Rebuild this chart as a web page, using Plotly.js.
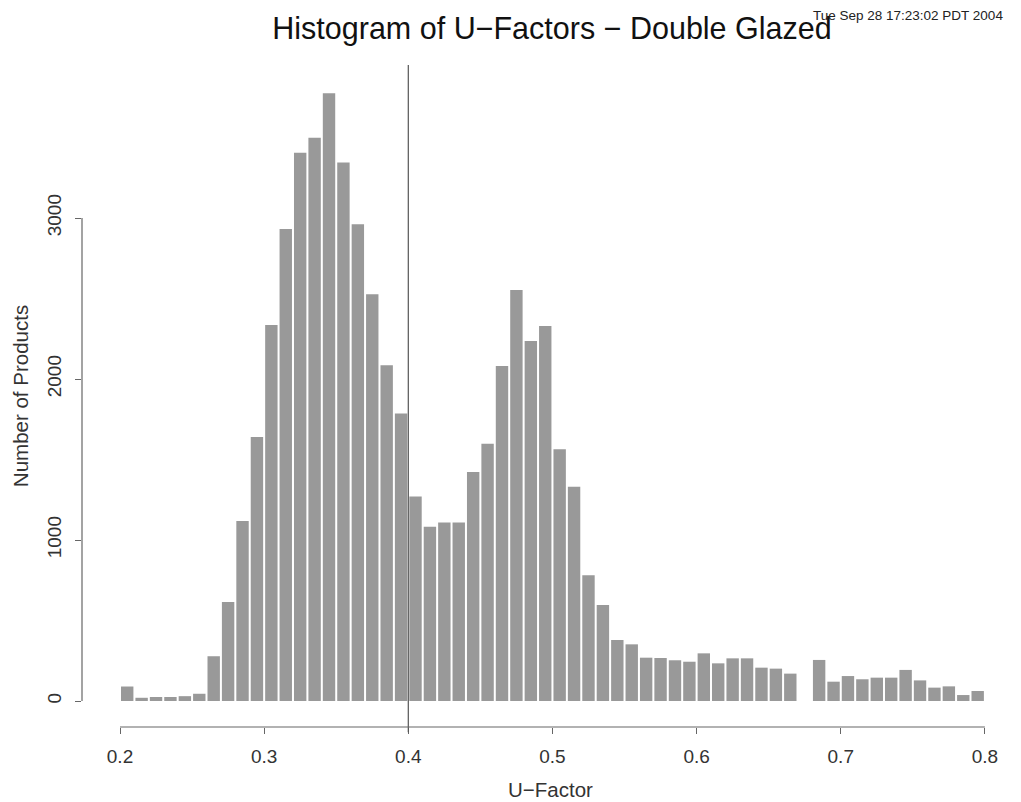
<!DOCTYPE html>
<html>
<head>
<meta charset="utf-8">
<script src="https://cdn.plot.ly/plotly-3.0.1.min.js"></script>
<style>html,body{margin:0;padding:0;background:#fff;}#chart{width:1021px;height:802px;}</style>
</head>
<body>
<div id="chart"></div>
<script>
// Bin left edges (U-Factor), width 0.01
const binStarts = [0.20,0.21,0.22,0.23,0.24,0.25,0.26,0.27,0.28,0.29,
                   0.30,0.31,0.32,0.33,0.34,0.35,0.36,0.37,0.38,0.39,
                   0.40,0.41,0.42,0.43,0.44,0.45,0.46,0.47,0.48,0.49,
                   0.50,0.51,0.52,0.53,0.54,0.55,0.56,0.57,0.58,0.59,
                   0.60,0.61,0.62,0.63,0.64,0.65,0.66,0.67,0.68,0.69,
                   0.70,0.71,0.72,0.73,0.74,0.75,0.76,0.77,0.78,0.79];
// Number of products per bin
const counts = [90,20,25,25,30,45,278,615,1118,1640,
                2335,2932,3406,3499,3775,3344,2961,2526,2085,1785,
                1270,1083,1108,1108,1422,1598,2081,2553,2236,2329,
                1563,1331,781,596,379,352,269,267,253,244,
                296,234,265,265,207,201,170,0,255,120,
                155,135,145,145,193,128,83,91,37,62];
const binWidth = 0.01;
const xTicks = [0.2,0.3,0.4,0.5,0.6,0.7,0.8];
const xTickText = ["0.2","0.3","0.4","0.5","0.6","0.7","0.8"];
const yTicks = [0,1000,2000,3000];
const yTickText = ["0","1000","2000","3000"];
const refLineX = 0.4;
const titleText = "Histogram of U\u2212Factors \u2212 Double Glazed";
const stampText = "Tue Sep 28 17:23:02 PDT 2004";
const xTitle = "U\u2212Factor";
const yTitle = "Number of Products";

const font = "Liberation Sans, Arial, Helvetica, sans-serif";
const axisColor = "#666666";

const trace = {
  type: "bar",
  x: binStarts,
  y: counts,
  width: binWidth * 0.86,
  offset: binWidth * 0.07,
  marker: {color: "#999999", line: {color: "#8a8a8a", width: 0}},
  hoverinfo: "x+y"
};

const layout = {
  width: 1021, height: 802,
  margin: {l: 82, r: 2, t: 65, b: 75, pad: 0},
  paper_bgcolor: "#ffffff", plot_bgcolor: "#ffffff",
  showlegend: false,
  font: {family: font, color: "#222222"},
  title: {
    text: titleText,
    font: {family: font, size: 30.5, color: "#111111"},
    x: 552/1021, xref: "container", xanchor: "center",
    y: 1 - 28/802, yref: "container", yanchor: "middle"
  },
  xaxis: {
    range: [0.2 - 38/1441.5, 0.2 - 38/1441.5 + 937/1441.5],
    tickvals: xTicks, ticktext: xTickText,
    ticks: "outside", ticklen: 6, tickwidth: 1, tickcolor: axisColor,
    showline: false, showgrid: false, zeroline: false,
    tickfont: {family: font, size: 19, color: "#333333"},
    ticklabelstandoff: 6,
    title: {text: xTitle, font: {family: font, size: 20.5, color: "#333333"}, standoff: 16},
    fixedrange: true
  },
  yaxis: {
    range: [-26/0.161, (701-65)/0.161],
    tickvals: yTicks, ticktext: yTickText,
    ticks: "outside", ticklen: 6, tickwidth: 1, tickcolor: axisColor,
    tickangle: -90,
    showline: false, showgrid: false, zeroline: false,
    tickfont: {family: font, size: 19, color: "#333333"},
    ticklabelstandoff: 6,
    title: {text: yTitle, font: {family: font, size: 20.5, color: "#333333"}, standoff: 10},
    fixedrange: true
  },
  shapes: [
    {type: "line", xref: "x", yref: "paper", x0: refLineX, x1: refLineX, y0: -0.008, y1: 1,
     line: {color: "#555555", width: 1.2}},
    {type: "line", xref: "paper", yref: "y", x0: 0, x1: 0, y0: yTicks[0], y1: yTicks[yTicks.length-1],
     line: {color: axisColor, width: 1.2}},
    {type: "line", xref: "x", yref: "paper", x0: xTicks[0], x1: xTicks[xTicks.length-1], y0: 0, y1: 0,
     line: {color: axisColor, width: 1.2}}
  ],
  annotations: [
    {text: stampText, xref: "paper", yref: "paper",
     x: (1005 - 82) / 937, y: 1 + (65 - 15) / 662,
     xanchor: "right", yanchor: "middle", showarrow: false,
     font: {family: font, size: 13.5, color: "#222222"}}
  ]
};

Plotly.newPlot("chart", [trace], layout, {displayModeBar: false, staticPlot: true});
</script>
</body>
</html>
